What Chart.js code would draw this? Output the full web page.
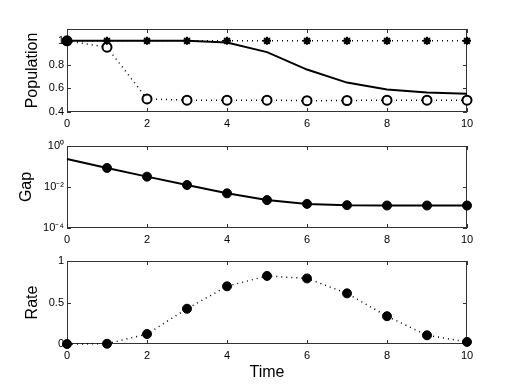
<!DOCTYPE html>
<html>
<head>
<meta charset="utf-8">
<script src="https://cdn.jsdelivr.net/npm/chart.js@4/dist/chart.umd.min.js"></script>
<style>
  body { margin: 0; background: #fff; }
  .panel { position: absolute; left: 0; width: 515px; }
</style>
</head>
<body>
<div class="panel" style="top:0;height:130px"><canvas id="popChart"></canvas></div>
<div class="panel" style="top:130px;height:120px"><canvas id="gapChart"></canvas></div>
<div class="panel" style="top:250px;height:138px"><canvas id="rateChart"></canvas></div>
<script>
// data
const time = [0, 1, 2, 3, 4, 5, 6, 7, 8, 9, 10];
const popStar = [1, 1, 1, 1, 1, 1, 1, 1, 1, 1, 1];
const popSolid = [1, 1, 1, 1, 0.986, 0.905, 0.758, 0.648, 0.59, 0.564, 0.553];
const popCircle = [1, 0.947, 0.51, 0.5, 0.5, 0.5, 0.495, 0.497, 0.5, 0.5, 0.5];
const gap = [0.23, 0.085, 0.032, 0.0125, 0.0049, 0.0023, 0.0015, 0.0013, 0.00125, 0.00125, 0.00125];
const rate = [0, 0.003, 0.12, 0.425, 0.695, 0.82, 0.79, 0.61, 0.335, 0.105, 0.025];

const xTicks = [0, 2, 4, 6, 8, 10];
const popTicks = [0.4, 0.6, 0.8, 1];
const gapTicks = [1e-4, 1e-2, 1];
const gapTickLabels = ["10\u207B\u2074", "10\u207B\u00B2", "10\u2070"];
const rateTicks = [0, 0.5, 1];

const FONT = "'Liberation Sans', Arial, Helvetica, sans-serif";

function pts(ys) {
  return time.map((t, i) => ({ x: t, y: ys[i] }));
}

// box around the plot with MATLAB style inner ticks
const boxPlugin = {
  id: "box",
  beforeDatasetsDraw(chart) {
    const { ctx, chartArea: a, scales } = chart;
    const len = 4;
    ctx.save();
    ctx.strokeStyle = "#333";
    ctx.lineWidth = 1;
    ctx.strokeRect(a.left + 0.5, a.top + 0.5, a.right - a.left - 1, a.bottom - a.top - 1);
    ctx.beginPath();
    scales.x.ticks.forEach(t => {
      const px = Math.round(scales.x.getPixelForValue(t.value)) + 0.5;
      ctx.moveTo(px, a.bottom); ctx.lineTo(px, a.bottom - len);
      ctx.moveTo(px, a.top); ctx.lineTo(px, a.top + len);
    });
    scales.y.ticks.forEach(t => {
      const py = Math.round(scales.y.getPixelForValue(t.value)) + 0.5;
      ctx.moveTo(a.left, py); ctx.lineTo(a.left + len, py);
      ctx.moveTo(a.right, py); ctx.lineTo(a.right - len, py);
    });
    ctx.stroke();
    ctx.restore();
  }
};

function xScale(height, title) {
  return {
    type: "linear", min: 0, max: 10,
    afterBuildTicks: s => { s.ticks = xTicks.map(v => ({ value: v })); },
    afterFit: s => { s.height = height; },
    grid: { display: false, drawTicks: false },
    border: { display: false },
    ticks: { color: "#000", font: { family: FONT, size: 11 }, padding: 5, maxRotation: 0, callback: v => String(v) },
    title: title ? { display: true, text: title, color: "#000", font: { family: FONT, size: 16 }, padding: { top: 0, bottom: 6 } }
                 : { display: false }
  };
}

function yScale(opts, title, titlePad) {
  return Object.assign({
    afterFit: s => { s.width = 67; },
    grid: { display: false, drawTicks: false },
    border: { display: false },
    ticks: { color: "#000", font: { family: FONT, size: 11 }, padding: 3, callback: v => String(v) },
    title: { display: true, text: title, color: "#000", font: { family: FONT, size: 16 }, padding: { top: titlePad, bottom: 0 } }
  }, opts);
}

function baseOptions(padTop, scales) {
  return {
    responsive: true,
    maintainAspectRatio: false,
    animation: false,
    layout: { padding: { left: 0, right: 48, top: padTop, bottom: 0 } },
    plugins: { legend: { display: false }, tooltip: { enabled: false } },
    scales: scales
  };
}

new Chart(document.getElementById("popChart"), {
  type: "line",
  data: {
    datasets: [
      {
        data: pts(popSolid), borderColor: "#000", borderWidth: 2,
        pointRadius: 0, tension: 0, clip: false
      },
      {
        data: pts(popStar), borderColor: "#000", borderWidth: 1.5, borderDash: [1, 4],
        pointStyle: "star", pointRadius: 4, pointBorderWidth: 2, pointBorderColor: "#000",
        tension: 0, clip: false
      },
      {
        data: pts(popCircle), borderColor: "#000", borderWidth: 1.5, borderDash: [1, 4],
        pointStyle: "circle", pointRadius: 4.5, pointBorderWidth: 2, pointBorderColor: "#000",
        pointBackgroundColor: popCircle.map((v, i) => i === 0 ? "#000" : "#fff"),
        tension: 0, clip: false
      }
    ]
  },
  options: baseOptions(29, {
    x: xScale(18),
    y: yScale({
      type: "linear", min: 0.4, max: 1.1,
      afterBuildTicks: s => { s.ticks = popTicks.map(v => ({ value: v })); }
    }, "Population", 23)
  }),
  plugins: [boxPlugin]
});

new Chart(document.getElementById("gapChart"), {
  type: "line",
  data: {
    datasets: [{
      data: pts(gap), borderColor: "#000", borderWidth: 2,
      pointStyle: "circle", pointRadius: gap.map((v, i) => i === 0 ? 0 : 4.5),
      pointBorderWidth: 1, pointBorderColor: "#000", pointBackgroundColor: "#000",
      tension: 0, clip: false
    }]
  },
  options: baseOptions(16, {
    x: xScale(22),
    y: yScale({
      type: "logarithmic", min: 1e-4, max: 1,
      afterBuildTicks: s => { s.ticks = gapTicks.map(v => ({ value: v })); },
      ticks: {
        color: "#000", font: { family: FONT, size: 11 }, padding: 3,
        callback: v => gapTickLabels[gapTicks.indexOf(v)]
      }
    }, "Gap", 17)
  }),
  plugins: [boxPlugin]
});

new Chart(document.getElementById("rateChart"), {
  type: "line",
  data: {
    datasets: [{
      data: pts(rate), borderColor: "#000", borderWidth: 1.5, borderDash: [1, 4],
      pointStyle: "circle", pointRadius: 4.5,
      pointBorderWidth: 1, pointBorderColor: "#000", pointBackgroundColor: "#000",
      tension: 0, clip: false
    }]
  },
  options: baseOptions(11, {
    x: xScale(44, "Time"),
    y: yScale({
      type: "linear", min: 0, max: 1,
      afterBuildTicks: s => { s.ticks = rateTicks.map(v => ({ value: v })); }
    }, "Rate", 23)
  }),
  plugins: [boxPlugin]
});
</script>
</body>
</html>
